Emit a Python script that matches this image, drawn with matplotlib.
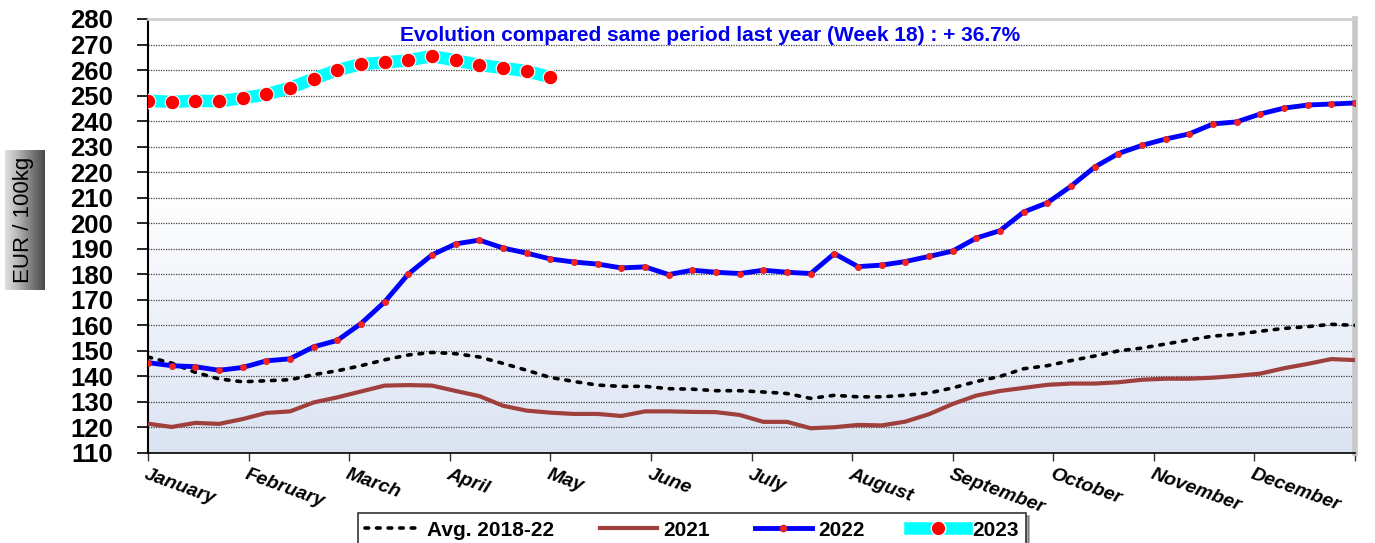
import numpy as np
import matplotlib
matplotlib.use('Agg')
import matplotlib.pyplot as plt
from matplotlib.lines import Line2D

plt.rcParams['font.family'] = ['Liberation Sans', 'DejaVu Sans']

# weekly prices, EUR / 100kg
weeks = np.arange(1, 53)
avg_2018_22 = [147.6, 145.2, 141.6, 139.0, 137.9, 138.3, 138.7, 140.7, 142.2, 144.2,
               146.5, 148.4, 149.4, 148.9, 147.6, 145.1, 142.4, 139.6, 138.0, 136.6,
               136.1, 136.1, 135.2, 135.0, 134.4, 134.4, 133.9, 133.3, 131.4, 132.6,
               132.0, 132.0, 132.6, 133.5, 135.5, 138.0, 140.0, 143.0, 144.2, 146.2,
               148.0, 150.0, 151.1, 152.7, 154.3, 155.8, 156.5, 157.7, 158.8, 159.5,
               160.4, 160.0]
y2021 = [121.5, 120.2, 121.8, 121.4, 123.3, 125.7, 126.3, 129.8, 131.8, 134.1,
         136.4, 136.6, 136.4, 134.3, 132.3, 128.5, 126.6, 125.8, 125.3, 125.3,
         124.5, 126.3, 126.3, 126.1, 126.0, 124.9, 122.2, 122.2, 119.7, 120.1,
         121.0, 120.8, 122.3, 125.2, 129.2, 132.5, 134.3, 135.5, 136.7, 137.2,
         137.2, 137.7, 138.7, 139.1, 139.1, 139.5, 140.2, 141.1, 143.2, 144.9,
         146.8, 146.4]
y2022 = [145.4, 144.2, 143.8, 142.4, 143.5, 146.1, 146.9, 151.6, 154.1, 160.7,
         169.2, 180.1, 187.6, 191.9, 193.4, 190.3, 188.3, 186.0, 184.8, 184.0,
         182.5, 182.9, 179.9, 181.6, 180.8, 180.3, 181.6, 180.8, 180.3, 188.1,
         183.0, 183.6, 185.0, 187.0, 189.1, 194.2, 197.1, 204.4, 208.0, 214.5,
         222.0, 227.3, 230.5, 233.0, 235.0, 238.9, 239.7, 242.8, 245.1, 246.3,
         246.7, 247.1]
y2023 = [248.0, 247.5, 248.0, 247.8, 249.0, 250.5, 253.0, 256.6, 260.0, 262.3,
         263.0, 263.8, 265.5, 263.8, 262.0, 260.8, 259.6, 257.2]
months = ['January', 'February', 'March', 'April', 'May', 'June', 'July',
          'August', 'September', 'October', 'November', 'December']
title_txt = 'Evolution compared same period last year (Week 18) : + 36.7%'

fig = plt.figure(figsize=(13.75, 5.43), dpi=100)
ax = fig.add_axes([148/1375, 1-453/543, 1207/1375, 434/543])

# фон с градиентом
grad = np.linspace(0, 1, 256).reshape(-1, 1)
grad = np.clip((grad - 0.4) / 0.6, 0, 1)
c_top = np.array([1.0, 1.0, 1.0])
c_bot = np.array([0.86, 0.89, 0.95])
img = c_top + (c_bot - c_top) * grad[:, :, None]
ax.imshow(img, extent=[1, 52, 110, 280], aspect='auto', zorder=0)

ax.set_xlim(1, 52)
ax.set_ylim(110, 280)
ax.set_yticks(np.arange(110, 281, 10))
ax.yaxis.grid(True, color='#444444', linestyle=(0, (1, 1)), linewidth=0.9, zorder=1)
ax.set_axisbelow(True)

ax.plot(weeks, avg_2018_22, color='black', linestyle=(0, (1, 2.2)), linewidth=2.6,
        dash_capstyle='round', zorder=3)
ax.plot(weeks, y2021, color='#a0403c', linewidth=3, zorder=3)
ax.plot(weeks, y2022, color='#0000ff', linewidth=3.5, marker='o', markersize=4.5,
        markerfacecolor='#ff2020', markeredgecolor='#cc2020', markeredgewidth=0.5, zorder=4)
ax.plot(weeks[:len(y2023)], y2023, color='#00ffff', linewidth=9, marker='o', markersize=10.5,
        markerfacecolor='#ff0000', markeredgecolor='white', markeredgewidth=0.8,
        solid_capstyle='butt', zorder=5)

tick_pos = 1 + np.arange(13) * 51 / 12
ax.set_xticks(tick_pos)
ax.set_xticklabels([])
for i, m in enumerate(months):
    ax.text(tick_pos[i], 105.0, m, rotation=-20, rotation_mode='anchor', ha='left', va='top',
            fontsize=14, fontweight='bold', fontstyle='italic', clip_on=False)

ax.tick_params(axis='y', direction='out', length=8, width=1.2, labelsize=18.5, pad=17)
ax.tick_params(axis='x', direction='out', length=6, width=1, color='#333333')
for lab in ax.get_yticklabels():
    lab.set_fontweight('bold')

ax.spines['left'].set_linewidth(1.5)
ax.spines['bottom'].set_linewidth(1.2)
ax.spines['top'].set_color('#d0d0d0')
ax.spines['top'].set_linewidth(2)
ax.spines['right'].set_color('#c8c8c8')
ax.spines['right'].set_linewidth(4)

ax.text(0.466, 0.963, title_txt, transform=ax.transAxes, ha='center', va='center',
        color='#0000ee', fontsize=15, fontweight='bold', zorder=6)

# подпись оси Y в сером блоке
lax = fig.add_axes([5/1375, 1-290/543, 40/1375, 140/543])
hgrad = np.linspace(0, 1, 64).reshape(1, -1)
lax.imshow(hgrad, cmap='Greys', vmin=-0.4, vmax=1.4, extent=[0, 1, 0, 1], aspect='auto')
lax.set_axis_off()
lax.text(0.45, 0.5, 'EUR / 100kg', rotation=90, ha='center', va='center',
         fontsize=16, transform=lax.transAxes)

handles = [
    Line2D([], [], color='black', linestyle=(0, (1, 2.2)), linewidth=2.6, dash_capstyle='round'),
    Line2D([], [], color='#a0403c', linewidth=3),
    Line2D([], [], color='#0000ff', linewidth=3.5, marker='o', markersize=4.5,
           markerfacecolor='#ff2020', markeredgecolor='#cc2020'),
    Line2D([], [], color='#00ffff', linewidth=9, marker='o', markersize=10.5,
           markerfacecolor='#ff0000', markeredgecolor='white'),
]
leg = fig.legend(handles, ['Avg. 2018-22', '2021', '2022', '2023'], ncol=4,
                 loc='upper center', bbox_to_anchor=(692/1375, 1-503/543),
                 frameon=True, fancybox=False, shadow=True, edgecolor='#333333',
                 prop={'weight': 'bold', 'size': 15}, handlelength=2.7,
                 columnspacing=2.2, borderpad=0.35, handletextpad=0.3)
leg.get_frame().set_linewidth(1.2)

fig.savefig('out.png', dpi=100)
